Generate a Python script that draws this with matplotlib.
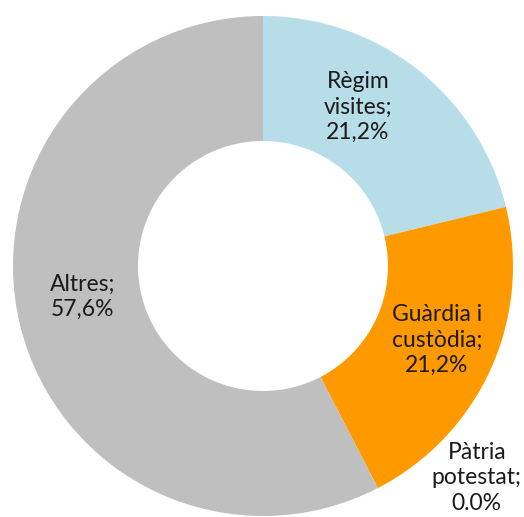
import matplotlib.pyplot as plt
import numpy as np

categories = ['Règim\nvisites', 'Guàrdia i\ncustòdia', 'Pàtria\npotestat', 'Altres']
values = [21.2, 21.2, 0.0, 57.6]
value_labels = ['21,2%', '21,2%', '0.0%', '57,6%']
colors = ['#B7DEE8', '#FF9900', '#7F7F7F', '#BFBFBF']

# label centres in axis units (ring outer radius = 1)
label_pos = [(0.38, 0.636), (0.696, -0.296), (0.855, -0.848), (-0.72, -0.124)]

W, H = 524, 517
cx, cy, R = 263, 266, 250

fig = plt.figure(figsize=(W / 100, H / 100), dpi=100)
ax = fig.add_axes([0, 0, 1, 1])

ax.pie(values, colors=colors, startangle=90, counterclock=False, radius=1.0,
       wedgeprops=dict(width=0.5, edgecolor='none'))

for cat, val, (x, y) in zip(categories, value_labels, label_pos):
    ax.text(x, y, f"{cat};\n{val}", ha='center', va='center', multialignment='center',
            fontsize=16.5, family=['Lato', 'DejaVu Sans'], color='#1a1a1a', linespacing=1.25)

ax.set_aspect('auto')
ax.set_xlim(-cx / R, (W - cx) / R)
ax.set_ylim(-(H - cy) / R, cy / R)
ax.axis('off')

fig.savefig('out.png', dpi=100)
